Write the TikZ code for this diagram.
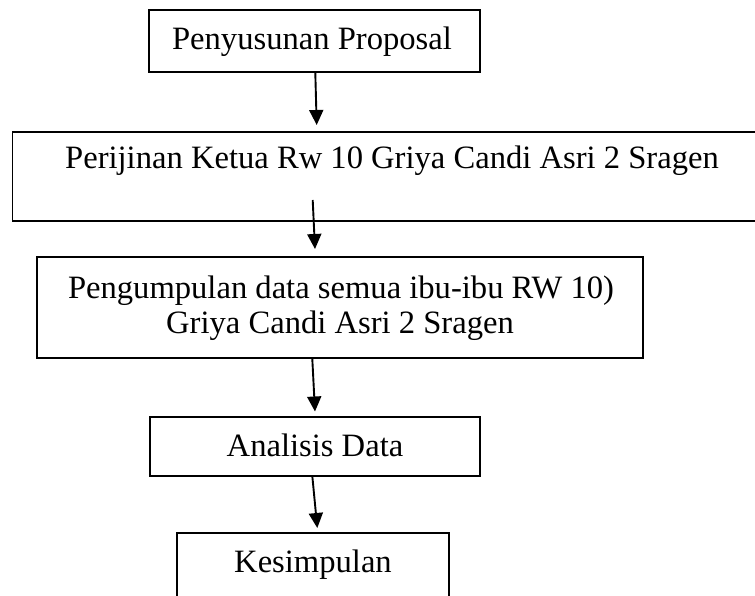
\documentclass[tikz,border=0pt]{standalone}
\usepackage{fontspec}
\setmainfont{Liberation Serif}
\usetikzlibrary{arrows.meta}
\begin{document}
\begin{tikzpicture}[x=1pt,y=-1pt,
  box/.style={draw=black, line width=1.3pt, inner sep=0pt, outer sep=0pt},
  lbl/.style={anchor=base, inner sep=0pt, font=\fontsize{32.6}{36}\selectfont},
  arr/.style={line width=1.9pt, -{Triangle[width=14pt,length=15pt]}}]
\useasboundingbox (0,0) rectangle (755,596);
\clip (0,0) rectangle (755,596);
% boxes
\node[box, minimum width=331pt, minimum height=62pt] (b1) at (314.5,41) {};
\node[box, minimum width=759pt, minimum height=89pt] (b2) at (392,176.5) {};
\node[box, minimum width=606pt, minimum height=101pt] (b3) at (340,307.5) {};
\node[box, minimum width=330pt, minimum height=59pt] (b4) at (315,446.5) {};
\node[box, minimum width=272pt, minimum height=72pt] (b5) at (313,569) {};
% texts
\node[lbl] (t1) at (312,50) {Penyusunan Proposal};
\node[lbl] (t2) at (392,169) {Perijinan Ketua Rw 10 Griya Candi Asri 2 Sragen};
\node[lbl] (t3a) at (341,298) {Pengumpulan data semua ibu-ibu RW 10)};
\node[lbl] (t3b) at (340,333) {Griya Candi Asri 2 Sragen};
\node[lbl] (t4) at (315,456) {Analisis Data};
\node[lbl] (t5) at (313,572) {Kesimpulan};
% arrow end points
\coordinate (a1s) at (315.3,73);
\coordinate (a1e) at (316.7,125);
\coordinate (a2s) at (312.7,200);
\coordinate (a2e) at (315,249);
\coordinate (a3s) at (312.3,359);
\coordinate (a3e) at (315,411.5);
\coordinate (a4s) at (312.3,476);
\coordinate (a4e) at (317.3,528);
\draw[arr] (a1s) -- (a1e);
\draw[arr] (a2s) -- (a2e);
\draw[arr] (a3s) -- (a3e);
\draw[arr] (a4s) -- (a4e);
\end{tikzpicture}
\end{document}
